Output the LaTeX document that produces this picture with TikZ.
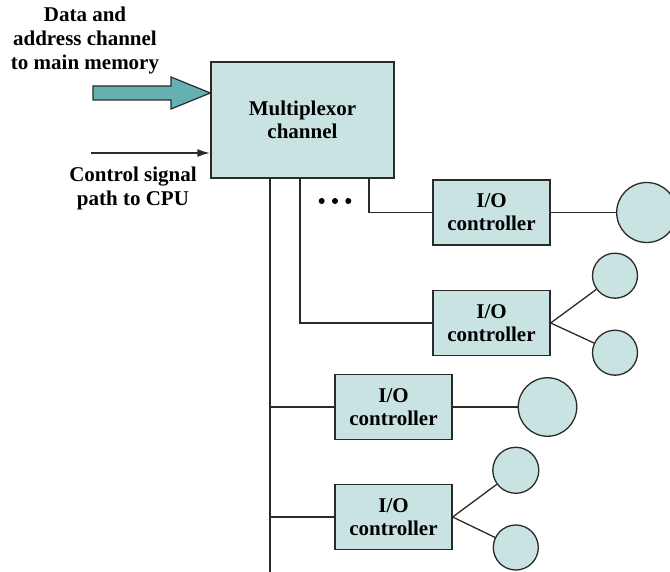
\documentclass[tikz,border=0pt]{standalone}
\usepackage{fontspec}
\setmainfont{Liberation Serif}
\usetikzlibrary{arrows.meta,calc}
\definecolor{boxfill}{HTML}{C9E2E2}
\definecolor{arrowfill}{HTML}{63B1B1}
\definecolor{edge}{HTML}{2A2A2A}
\begin{document}
\begin{tikzpicture}[x=1pt,y=-1pt,
  box/.style={draw=edge,line width=1.3pt,fill=boxfill,align=center,font=\fontsize{21}{23}\selectfont\bfseries,inner sep=0pt},
  dev/.style={circle,draw=edge,line width=1.3pt,fill=boxfill,inner sep=0pt},
  wire/.style={draw=edge,line width=1.3pt},
  lab/.style={align=center,font=\fontsize{21}{24}\selectfont\bfseries,inner sep=0pt}]
\useasboundingbox (0,0) rectangle (670,572);
\clip (0,0) rectangle (670,572);
% main box
\node[box,minimum width=183pt,minimum height=116pt] (mux) at (302.5,120) {Multiplexor\\channel};
% controllers
\node[box,minimum width=117pt,minimum height=65pt] (c1) at (491.5,212.5) {I/O\\controller};
\node[box,minimum width=117pt,minimum height=65pt] (c2) at (491.5,323) {I/O\\controller};
\node[box,minimum width=117pt,minimum height=65pt] (c3) at (393.5,407) {I/O\\controller};
\node[box,minimum width=117pt,minimum height=65pt] (c4) at (393.5,517) {I/O\\controller};
% devices
\node[dev,minimum size=60pt] (d1) at (646.7,212.5) {};
\node[dev,minimum size=45pt] (d2a) at (615,275.7) {};
\node[dev,minimum size=45pt] (d2b) at (615,352.7) {};
\node[dev,minimum size=58.5pt] (d3) at (547.5,407) {};
\node[dev,minimum size=46pt] (d4a) at (515.8,470.3) {};
\node[dev,minimum size=45pt] (d4b) at (515.8,547.5) {};
% bus lines
\coordinate (busend) at (270,572);
\draw[wire] (mux.south -| busend) -- (busend);
\draw[wire] (mux.south -| 300,0) |- (c2.west);
\draw[wire] (mux.south -| 369,0) |- (c1.west);
\draw[wire] (c3.west -| busend) -- (c3.west);
\draw[wire] (c4.west -| busend) -- (c4.west);
% device links
\draw[wire] (c1.east) -- (d1);
\draw[wire] (c2.east) -- (d2a);
\draw[wire] (c2.east) -- (d2b);
\draw[wire] (c3.east) -- (d3);
\draw[wire] (c4.east) -- (d4a);
\draw[wire] (c4.east) -- (d4b);
% dots
\node[circle,fill=black,inner sep=0pt,minimum size=6pt] (dot1) at (321.7,201) {};
\node[circle,fill=black,inner sep=0pt,minimum size=6pt] (dot2) at (335,201) {};
\node[circle,fill=black,inner sep=0pt,minimum size=6pt] (dot3) at (348.3,201) {};
% big arrow
\coordinate (tip) at (mux.west |- 0,93);
\draw[draw=edge,line width=1.2pt,fill=arrowfill,line join=miter]
  (93,86) -- (171,86) -- (171,77) -- (tip) -- (171,109) -- (171,100) -- (93,100) -- cycle;
% control arrow
\coordinate (cstart) at (91,153);
\draw[edge,line width=2pt,-{Latex[length=13pt,width=8pt]}] (cstart) -- (cstart -| mux.west);
% labels
\node[lab] (l1) at (85,40) {Data and\\address channel\\to main memory};
\node[lab] (l2) at (133,188) {Control signal\\path to CPU};
\end{tikzpicture}
\end{document}
